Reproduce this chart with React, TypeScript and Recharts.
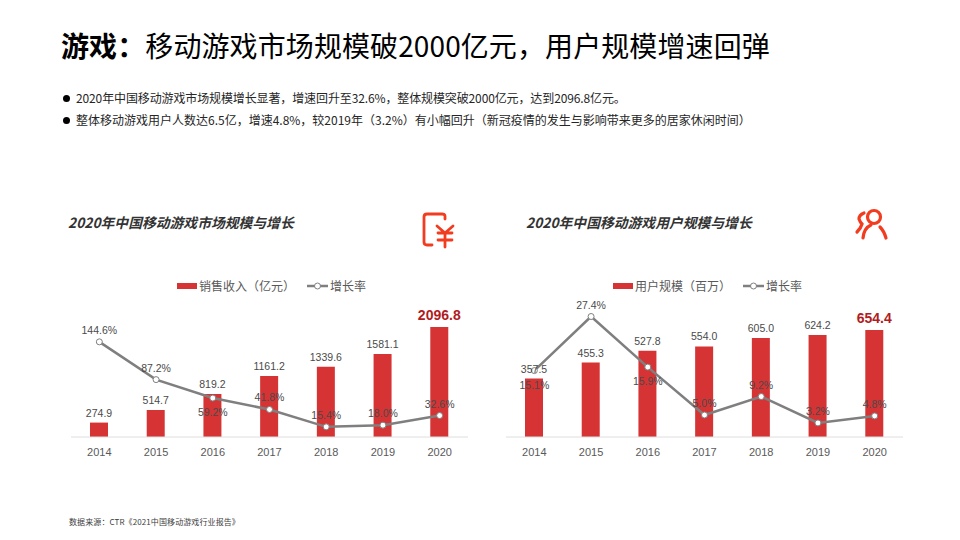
import { Bar, ComposedChart, Legend, LabelList, Line, XAxis, YAxis } from 'recharts';

const years = ['2014', '2015', '2016', '2017', '2018', '2019', '2020'];
const salesRevenue = [274.9, 514.7, 819.2, 1161.2, 1339.6, 1581.1, 2096.8];
const salesGrowth = [144.6, 87.2, 59.2, 41.8, 15.4, 18.0, 32.6];
const userScale = [357.5, 455.3, 527.8, 554.0, 605.0, 624.2, 654.4];
const userGrowth = [15.1, 27.4, 15.9, 5.0, 9.2, 3.2, 4.8];

const RED = '#d63434';
const GRAY = '#7f7f7f';
const TEXT = '#595959';
const LABEL = '#4a4a4a';
const ICON = '#f23c1f';
const CJK = '"Noto Sans CJK SC", sans-serif';
const LATIN = '"Liberation Sans", "Noto Sans CJK SC", sans-serif';

function BarValueLabel(props: any) {
    const { x, y, width, value, index } = props;
    const last = index === years.length - 1;
    return (
        <text
            x={x + width / 2}
            y={y - (last ? 7 : 6)}
            textAnchor="middle"
            fontFamily={LATIN}
            fontSize={last ? 14 : 10.5}
            fontWeight={last ? 700 : 400}
            fill={last ? '#b01c22' : LABEL}
        >
            {value.toFixed(1)}
        </text>
    );
}

function growthLabel(below: number[]) {
    return (props: any) => {
        const { x, y, value, index } = props;
        return (
            <text
                x={x}
                y={below.includes(index) ? y + 18 : y - 8}
                textAnchor="middle"
                fontFamily={LATIN}
                fontSize={10.5}
                fill={LABEL}
            >
                {value.toFixed(1)}%
            </text>
        );
    };
}

function ChartLegend({ payload }: any) {
    // bars come first in the reference legend
    const items = [...payload].sort((a: any) => (a.type === 'rect' ? -1 : 1));
    return (
        <div style={{ display: 'flex', alignItems: 'center', fontFamily: CJK, fontSize: 12, color: TEXT, lineHeight: '16px' }}>
            {items.map((entry: any) => (
                <div key={entry.value} style={{ display: 'flex', alignItems: 'center', marginRight: 12 }}>
                    {entry.type === 'rect' ? (
                        <svg width={20} height={6} style={{ marginRight: 2 }}>
                            <rect width={20} height={6} fill={RED} />
                        </svg>
                    ) : (
                        <svg width={21} height={8} style={{ marginRight: 2 }}>
                            <line x1={0} y1={4} x2={21} y2={4} stroke={GRAY} strokeWidth={2.5} />
                            <circle cx={10.5} cy={4} r={3} fill="#fff" stroke={GRAY} />
                        </svg>
                    )}
                    {entry.value}
                </div>
            ))}
        </div>
    );
}

interface ComboChartProps {
    left: number;
    legendLeft: number;
    barName: string;
    bars: number[];
    growth: number[];
    barMax: number;
    growthMax: number;
    labelsBelow: number[];
}

function ComboChart({ left, legendLeft, barName, bars, growth, barMax, growthMax, labelsBelow }: ComboChartProps) {
    const data = years.map((year, i) => ({ year, bar: bars[i], growth: growth[i] }));
    return (
        <div style={{ position: 'absolute', left, top: 270 }}>
            <ComposedChart width={397} height={200} data={data} margin={{ top: 20, right: 0, bottom: 3, left: 0 }}>
                <XAxis
                    dataKey="year"
                    height={30}
                    tickLine={false}
                    axisLine={{ stroke: '#dedede', strokeWidth: 1 }}
                    tick={{ fill: TEXT, fontSize: 11, fontFamily: LATIN }}
                    tickMargin={5}
                />
                <YAxis yAxisId="bars" hide domain={[0, barMax]} />
                <YAxis yAxisId="growth" hide orientation="right" domain={[0, growthMax]} />
                <Legend
                    layout="horizontal"
                    verticalAlign="middle"
                    content={<ChartLegend />}
                    wrapperStyle={{ left: legendLeft, top: 8, width: 300, height: 16 }}
                />
                <Bar
                    yAxisId="bars"
                    dataKey="bar"
                    name={barName}
                    legendType="rect"
                    fill={RED}
                    barSize={18}
                    isAnimationActive={false}
                >
                    <LabelList dataKey="bar" content={<BarValueLabel />} />
                </Bar>
                <Line
                    yAxisId="growth"
                    dataKey="growth"
                    name="增长率"
                    legendType="line"
                    type="linear"
                    stroke={GRAY}
                    strokeWidth={2.5}
                    dot={{ r: 3, fill: '#fff', stroke: GRAY, strokeWidth: 1, fillOpacity: 1 }}
                    isAnimationActive={false}
                >
                    <LabelList dataKey="growth" content={growthLabel(labelsBelow)} />
                </Line>
            </ComposedChart>
        </div>
    );
}

function YenIcon() {
    return (
        <svg width={40} height={44} viewBox="0 0 40 44" style={{ position: 'absolute', left: 420, top: 208 }} fill="none" stroke={ICON} strokeWidth={2.8} strokeLinecap="round" strokeLinejoin="round">
            <path d="M25 11 V8 Q25 6 22 6 H7 Q4 6 4 9 V34 Q4 37 7 37 H12" />
            <path d="M17 18 L25 25 L33 18 M18 25 H32 M18 32 H32 M25 25 V39" />
        </svg>
    );
}

function UserIcon() {
    return (
        <svg width={40} height={40} viewBox="0 0 40 40" style={{ position: 'absolute', left: 850, top: 205 }} fill="none" stroke={ICON} strokeWidth={3.2} strokeLinecap="round">
            <circle cx={24} cy={12} r={6.5} />
            <path d="M13 33 Q14 23 21 20 M30 22 Q34 26 36 33" />
            <path d="M14 8 Q9 10 9 14 Q10 17 12 19 Q11 23 7 27" />
        </svg>
    );
}

const chartTitleStyle: React.CSSProperties = {
    position: 'absolute',
    top: 212,
    fontFamily: CJK,
    fontSize: 13.8,
    fontWeight: 700,
    fontStyle: 'italic',
    color: '#333',
    lineHeight: '20px',
    whiteSpace: 'nowrap',
};

const bulletStyle: React.CSSProperties = {
    position: 'absolute',
    left: 76,
    fontFamily: CJK,
    fontSize: 12,
    color: '#262626',
    lineHeight: '18px',
    whiteSpace: 'nowrap',
};

function Dot({ top }: { top: number }) {
    return <div style={{ position: 'absolute', left: 63, top, width: 7, height: 7, borderRadius: '50%', background: '#000' }} />;
}

export default function App() {
    return (
        <div style={{ position: 'absolute', left: 0, top: 0, width: 960, height: 540, background: '#fff', overflow: 'hidden' }}>
            <div style={{ position: 'absolute', left: 61, top: 24, fontFamily: CJK, fontSize: 28, letterSpacing: 0.1, lineHeight: '42px', color: '#000', whiteSpace: 'nowrap' }}>
                <b>游戏：</b>移动游戏市场规模破2000亿元，用户规模增速回弹
            </div>
            <Dot top={95} />
            <div style={{ ...bulletStyle, top: 89, letterSpacing: -0.12 }}>2020年中国移动游戏市场规模增长显著，增速回升至32.6%，整体规模突破2000亿元，达到2096.8亿元。</div>
            <Dot top={117} />
            <div style={{ ...bulletStyle, top: 111 }}>整体移动游戏用户人数达6.5亿，增速4.8%，较2019年（3.2%）有小幅回升（新冠疫情的发生与影响带来更多的居家休闲时间）</div>

            <div style={{ ...chartTitleStyle, left: 68 }}>2020年中国移动游戏市场规模与增长</div>
            <div style={{ ...chartTitleStyle, left: 526 }}>2020年中国移动游戏用户规模与增长</div>
            <YenIcon />
            <UserIcon />

            <ComboChart
                left={71}
                legendLeft={106}
                barName="销售收入（亿元）"
                bars={salesRevenue}
                growth={salesGrowth}
                barMax={2802}
                growthMax={223.4}
                labelsBelow={[2]}
            />
            <ComboChart
                left={506}
                legendLeft={107}
                barName="用户规模（百万）"
                bars={userScale}
                growth={userGrowth}
                barMax={899}
                growthMax={33.43}
                labelsBelow={[0, 2]}
            />

            <div style={{ position: 'absolute', left: 69, top: 516, fontFamily: CJK, fontSize: 8, letterSpacing: 0.1, lineHeight: '12px', color: '#404040', whiteSpace: 'nowrap' }}>
                数据来源：CTR《2021中国移动游戏行业报告》
            </div>
        </div>
    );
}
